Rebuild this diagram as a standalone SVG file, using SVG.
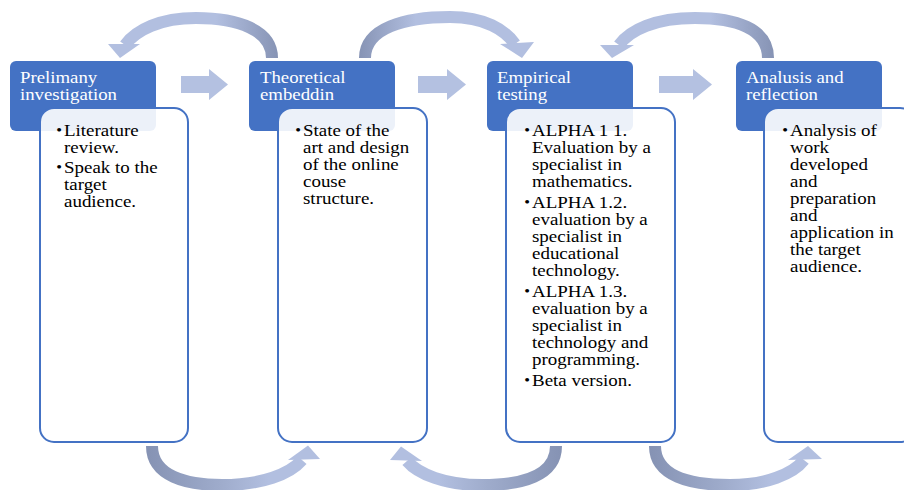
<svg xmlns="http://www.w3.org/2000/svg" width="904" height="490" viewBox="0 0 904 490">
<style>
.hdr{fill:#4472C4;}
.body{fill:#ffffff;fill-opacity:0.9;stroke:#4472C4;stroke-width:2;}
.ht{font-family:"Liberation Serif","Times New Roman",serif;font-size:16.2px;fill:#ffffff;}
.bt{font-family:"Liberation Serif","Times New Roman",serif;font-size:16.2px;fill:#000000;}
.bu{font-family:"Liberation Serif","Times New Roman",serif;font-size:14px;fill:#000000;}
.blk{fill:#B4C1E1;}
.head{fill:#B2BFE0;}
.shaft{fill:none;stroke-width:12;stroke-linecap:butt;}
</style>
<defs>
<linearGradient id="gT1" gradientUnits="userSpaceOnUse" x1="120" y1="0" x2="280" y2="0"><stop offset="0" stop-color="#B2BFE0"/><stop offset="0.6" stop-color="#B2BFE0"/><stop offset="1" stop-color="#8592B3"/></linearGradient>
<linearGradient id="gT2" gradientUnits="userSpaceOnUse" x1="357" y1="0" x2="525" y2="0"><stop offset="0" stop-color="#8592B3"/><stop offset="0.35" stop-color="#B2BFE0"/><stop offset="1" stop-color="#B2BFE0"/></linearGradient>
<linearGradient id="gT3" gradientUnits="userSpaceOnUse" x1="612" y1="0" x2="776" y2="0"><stop offset="0" stop-color="#B2BFE0"/><stop offset="0.6" stop-color="#B2BFE0"/><stop offset="1" stop-color="#8592B3"/></linearGradient>
<linearGradient id="gB1" gradientUnits="userSpaceOnUse" x1="145" y1="0" x2="310" y2="0"><stop offset="0" stop-color="#8592B3"/><stop offset="0.45" stop-color="#9EABCB"/><stop offset="0.75" stop-color="#B2BFE0"/><stop offset="1" stop-color="#B2BFE0"/></linearGradient>
<linearGradient id="gB2" gradientUnits="userSpaceOnUse" x1="563" y1="0" x2="398" y2="0"><stop offset="0" stop-color="#8592B3"/><stop offset="0.45" stop-color="#9EABCB"/><stop offset="0.75" stop-color="#B2BFE0"/><stop offset="1" stop-color="#B2BFE0"/></linearGradient>
<linearGradient id="gB3" gradientUnits="userSpaceOnUse" x1="648" y1="0" x2="812" y2="0"><stop offset="0" stop-color="#8592B3"/><stop offset="0.45" stop-color="#9EABCB"/><stop offset="0.75" stop-color="#B2BFE0"/><stop offset="1" stop-color="#B2BFE0"/></linearGradient>
</defs>

<g id="connectors">
  <path class="blk" d="M181,76 H209 V69 L228,84.5 L209,100 V93 H181 Z"/>
  <path class="blk" d="M418,76 H447 V69 L466,84.5 L447,100 V93 H418 Z"/>
  <path class="blk" d="M659,76 H693 V69 L712,84.5 L693,100 V93 H659 Z"/>

  <path class="shaft" stroke="url(#gT1)" d="M272,58 C272,30 238,18 196,18 C160,18 136,30 125,45"/>
  <polygon class="head" points="108,44 140,44 120,58"/>

  <path class="shaft" stroke="url(#gT2)" d="M365,58 C365,28 405,17 450,17 C485,17 505,30 515,44"/>
  <polygon class="head" points="500,44 534,42 522,58"/>

  <path class="shaft" stroke="url(#gT3)" d="M768,58 C768,28 735,18 695,18 C655,18 630,30 619,45"/>
  <polygon class="head" points="600,45 634,45 612,58"/>

  <path class="shaft" stroke="url(#gB1)" d="M152,446 C152,476 186,485 222,485 C262,485 290,474 302,460"/>
  <polygon class="head" points="288,460 320,459 308,445.5"/>

  <path class="shaft" stroke="url(#gB2)" d="M556,446 C556,476 522,485 482,485 C445,485 418,474 407,461"/>
  <polygon class="head" points="390,460 422,461 401,446.5"/>

  <path class="shaft" stroke="url(#gB3)" d="M655,446 C655,476 690,485 730,485 C766,485 793,474 804,460"/>
  <polygon class="head" points="788,460 822,459 808,446"/>
</g>

<g id="node1">
  <rect class="hdr" x="10" y="61" width="146" height="70" rx="6"/>
  <rect class="body" x="40" y="108" width="148" height="334" rx="14"/>
  <g class="ht" transform="translate(20 0) scale(1.16 1)">
    <text x="0" y="83">Prelimany</text>
    <text x="0" y="100">investigation</text>
  </g>
  <g class="bt" transform="translate(64 0) scale(1.17 1)">
    <text class="bu" x="-6.6" y="135">•</text>
    <text x="0" y="136">Literature</text>
    <text x="0" y="153">review.</text>
    <text class="bu" x="-6.6" y="172">•</text>
    <text x="0" y="173">Speak to the</text>
    <text x="0" y="190">target</text>
    <text x="0" y="207">audience.</text>
  </g>
</g>

<g id="node2">
  <rect class="hdr" x="249" y="61" width="146" height="70" rx="6"/>
  <rect class="body" x="278" y="108" width="149" height="334" rx="14"/>
  <g class="ht" transform="translate(260 0) scale(1.16 1)">
    <text x="0" y="83">Theoretical</text>
    <text x="0" y="100">embeddin</text>
  </g>
  <g class="bt" transform="translate(303 0) scale(1.17 1)">
    <text class="bu" x="-6.6" y="135">•</text>
    <text x="0" y="136">State of the</text>
    <text x="0" y="153">art and design</text>
    <text x="0" y="170">of the online</text>
    <text x="0" y="187">couse</text>
    <text x="0" y="204">structure.</text>
  </g>
</g>

<g id="node3">
  <rect class="hdr" x="487" y="61" width="146" height="70" rx="6"/>
  <rect class="body" x="506" y="108" width="169" height="334" rx="14"/>
  <g class="ht" transform="translate(497 0) scale(1.16 1)">
    <text x="0" y="83">Empirical</text>
    <text x="0" y="100">testing</text>
  </g>
  <g class="bt" transform="translate(532 0) scale(1.17 1)">
    <text class="bu" x="-6.6" y="135">•</text>
    <text x="0" y="136">ALPHA 1 1.</text>
    <text x="0" y="153">Evaluation by a</text>
    <text x="0" y="170">specialist in</text>
    <text x="0" y="187">mathematics.</text>
    <text class="bu" x="-6.6" y="207">•</text>
    <text x="0" y="208">ALPHA 1.2.</text>
    <text x="0" y="225">evaluation by a</text>
    <text x="0" y="242">specialist in</text>
    <text x="0" y="259">educational</text>
    <text x="0" y="276">technology.</text>
    <text class="bu" x="-6.6" y="296">•</text>
    <text x="0" y="297">ALPHA 1.3.</text>
    <text x="0" y="314">evaluation by a</text>
    <text x="0" y="331">specialist in</text>
    <text x="0" y="348">technology and</text>
    <text x="0" y="365">programming.</text>
    <text class="bu" x="-6.6" y="385">•</text>
    <text x="0" y="386">Beta version.</text>
  </g>
</g>

<g id="node4">
  <rect class="hdr" x="736" y="61" width="146" height="70" rx="6"/>
  <rect class="body" x="764" y="108" width="150" height="334" rx="14"/>
  <g class="ht" transform="translate(746 0) scale(1.16 1)">
    <text x="0" y="83">Analusis and</text>
    <text x="0" y="100">reflection</text>
  </g>
  <g class="bt" transform="translate(790 0) scale(1.17 1)">
    <text class="bu" x="-6.6" y="135">•</text>
    <text x="0" y="136">Analysis of</text>
    <text x="0" y="153">work</text>
    <text x="0" y="170">developed</text>
    <text x="0" y="187">and</text>
    <text x="0" y="204">preparation</text>
    <text x="0" y="221">and</text>
    <text x="0" y="238">application in</text>
    <text x="0" y="255">the target</text>
    <text x="0" y="272">audience.</text>
  </g>
</g>
</svg>
